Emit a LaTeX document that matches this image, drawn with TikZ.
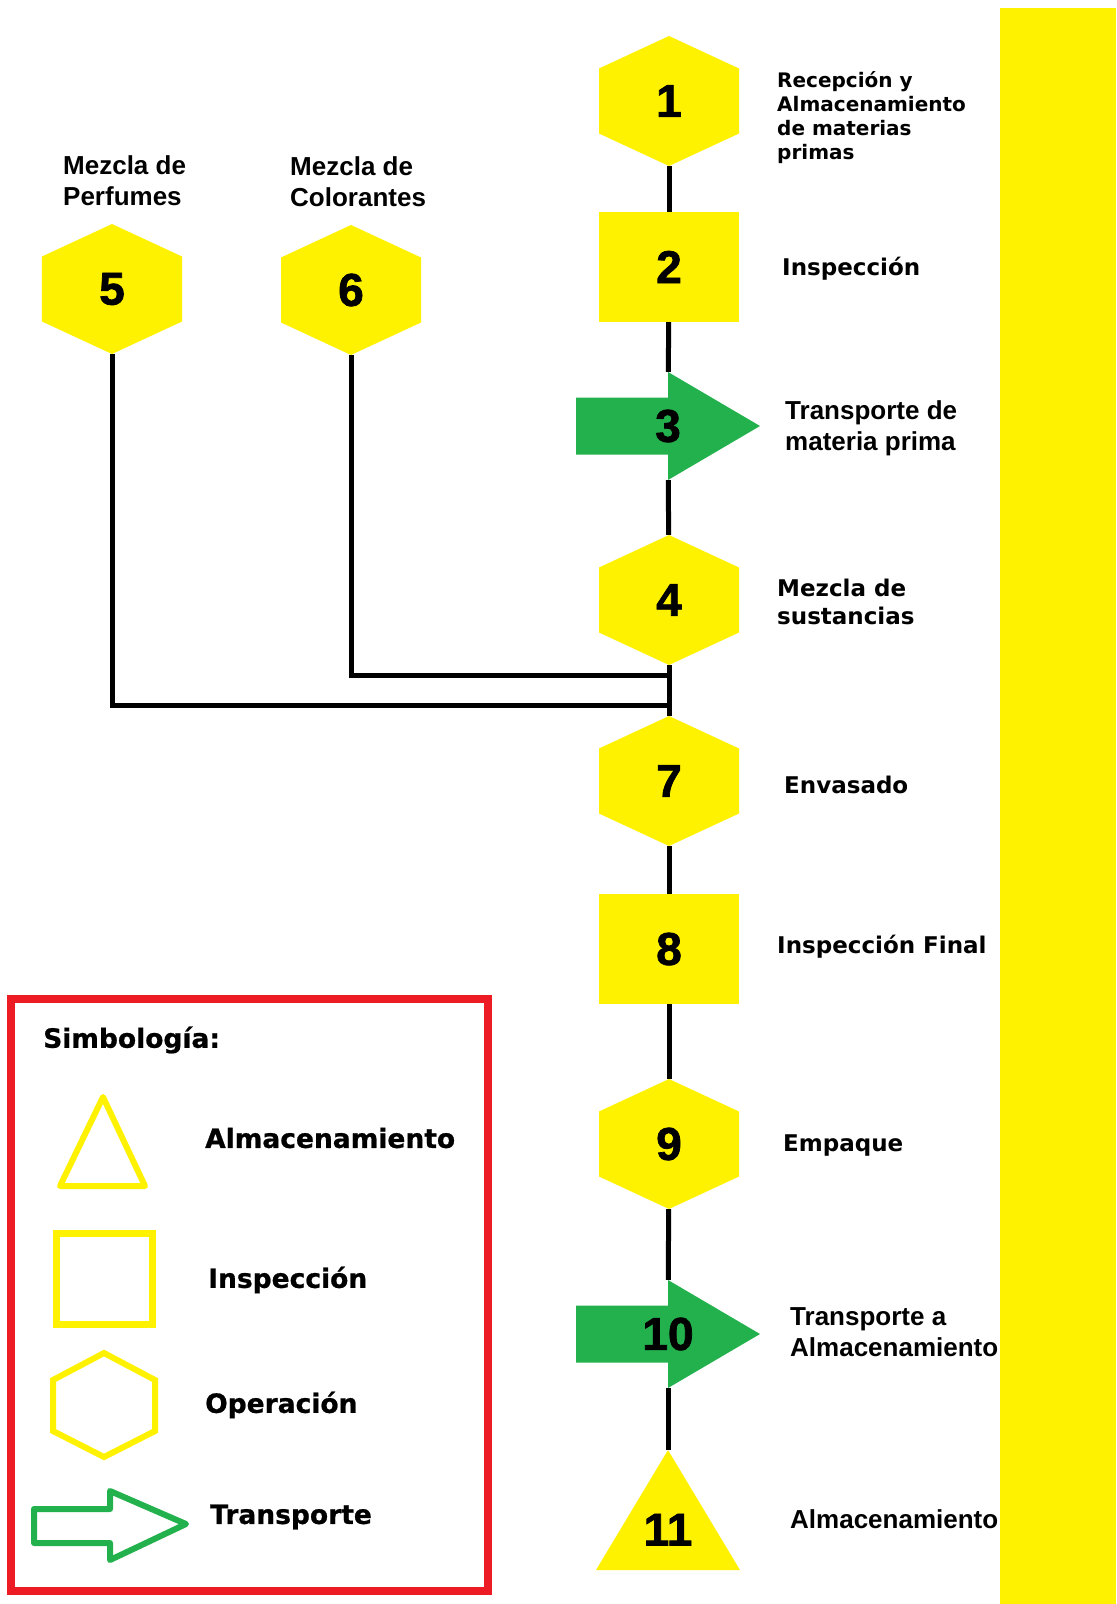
\documentclass[tikz,border=0pt]{standalone}
\usepackage{fontspec}
\setmainfont{Liberation Sans}
\newfontfamily\vfont{DejaVu Sans}
\newfontfamily\numfont{Liberation Sans}[BoldFeatures={FakeBold=1.6}]
\newfontfamily\keyfont{DejaVu Sans}[BoldFeatures={FakeBold=0.8}]
\definecolor{fillyellow}{HTML}{FFF200}
\definecolor{fillgreen}{HTML}{22B14C}
\definecolor{boxred}{HTML}{ED1C24}

\begin{document}
\begin{tikzpicture}[x=1bp, y=-1bp,
  conn/.style={line width=5bp},
  num/.style={font=\numfont\bfseries\fontsize{46bp}{46bp}\selectfont},
  lab/.style={anchor=west, align=left, font=\vfont\bfseries\fontsize{23bp}{28bp}\selectfont},
  labA/.style={anchor=west, align=left, font=\bfseries\fontsize{26bp}{31bp}\selectfont},
  key/.style={anchor=west, font=\keyfont\bfseries\fontsize{26.5bp}{30bp}\selectfont},
  oper/.style={num, rectangle, minimum width=140bp, minimum height=130bp,
    path picture={\fill[fillyellow] (path picture bounding box.north)
      -- ([yshift=32.5bp]path picture bounding box.east)
      -- ([yshift=-32.5bp]path picture bounding box.east)
      -- (path picture bounding box.south)
      -- ([yshift=-32.5bp]path picture bounding box.west)
      -- ([yshift=32.5bp]path picture bounding box.west) -- cycle;}},
  insp/.style={num, rectangle, fill=fillyellow, minimum width=140bp, minimum height=110bp},
  trans/.style={num, rectangle, minimum width=184bp, minimum height=108bp,
    path picture={\fill[fillgreen] ([yshift=28.5bp]path picture bounding box.west)
      -- ([yshift=28.5bp]path picture bounding box.center)
      -- (path picture bounding box.north)
      -- (path picture bounding box.east)
      -- (path picture bounding box.south)
      -- ([yshift=-28.5bp]path picture bounding box.center)
      -- ([yshift=-28.5bp]path picture bounding box.west) -- cycle;}},
  alma/.style={num, rectangle, minimum width=144bp, minimum height=120bp,
    text height=71bp, text depth=0bp,
    path picture={\fill[fillyellow] (path picture bounding box.north)
      -- (path picture bounding box.south east)
      -- (path picture bounding box.south west) -- cycle;}}]
  \tikzstyle{every node}+=[inner sep=0pt]
  \useasboundingbox (0,0) rectangle (1116,1604);
  \fill [white] (0,0) rectangle (1116,1604);
  \fill [fillyellow] (1000,8) rectangle (1116,1604);
  % main line of the process
  \node [oper] (n1) at (669,101) {1};
  \node [insp] (n2) at (669,267) {2};
  \node [trans] (n3) at (668,426) {3};
  \node [oper] (n4) at (669,600) {4};
  \node [oper] (n7) at (669,781) {7};
  \node [insp] (n8) at (669,949) {8};
  \node [oper] (n9) at (669,1144) {9};
  \node [trans] (n10) at (668,1334) {10};
  \node [alma] (n11) at (668,1510) {11};
  % side operations
  \node [oper] (n5) at (112,289) {5};
  \node [oper] (n6) at (351,290) {6};
  \coordinate (j6) at (669,675);
  \coordinate (j5) at (669,705);
  \draw [conn] (n1) -- (n2);
  \draw [conn] (n2) -- (n3);
  \draw [conn] (n3) -- (n4);
  \draw [conn] (n4) -- (n7);
  \draw [conn] (n6) |- (j6);
  \draw [conn] (n5) |- (j5);
  \draw [conn] (n7) -- (n8);
  \draw [conn] (n8) -- (n9);
  \draw [conn] (n9) -- (n10);
  \draw [conn] (n10) -- (n11);
  % texts
  \node [lab, font=\vfont\bfseries\fontsize{20bp}{24bp}\selectfont] (t1) at (777,118) {Recepción y\\Almacenamiento\\de materias\\primas};
  \node [lab] (t2) at (782,269) {Inspección};
  \node [labA] (t3) at (785,428) {Transporte de\\materia prima};
  \node [lab] (t4) at (777,602) {Mezcla de\\sustancias};
  \node [labA] (t5) at (63,181) {Mezcla de\\Perfumes};
  \node [labA] (t6) at (290,182) {Mezcla de\\Colorantes};
  \node [lab] (t7) at (784,785) {Envasado};
  \node [lab] (t8) at (777,947) {Inspección Final};
  \node [lab] (t9) at (783,1145) {Empaque};
  \node [labA] (t10) at (790,1332) {Transporte a\\Almacenamiento};
  \node [labA] (t11) at (790,1519) {Almacenamiento};
  % symbol key
  \draw [boxred, line width=8bp] (11,999) rectangle (488,1591);
  \node [key] (k0) at (43,1040) {Simbología:};
  \draw [fillyellow, line width=6bp, line join=round] (103,1097) -- (145,1186) -- (60,1186) -- cycle;
  \node [key] (k1) at (205,1138) {Almacenamiento};
  \draw [fillyellow, line width=7bp] (56,1233) rectangle (152,1324);
  \node [key] (k2) at (208,1280) {Inspección};
  \draw [fillyellow, line width=6bp] (104,1353) -- (155,1380) -- (155,1431) -- (104,1457) -- (53,1431) -- (53,1380) -- cycle;
  \node [key] (k3) at (205,1405) {Operación};
  \draw [fillgreen, line width=6bp, line join=round] (34,1509) -- (110,1509) -- (110,1491) -- (186,1524) -- (110,1560) -- (110,1543) -- (34,1543) -- cycle;
  \node [key] (k4) at (210,1517) {Transporte};
\end{tikzpicture}
\end{document}
